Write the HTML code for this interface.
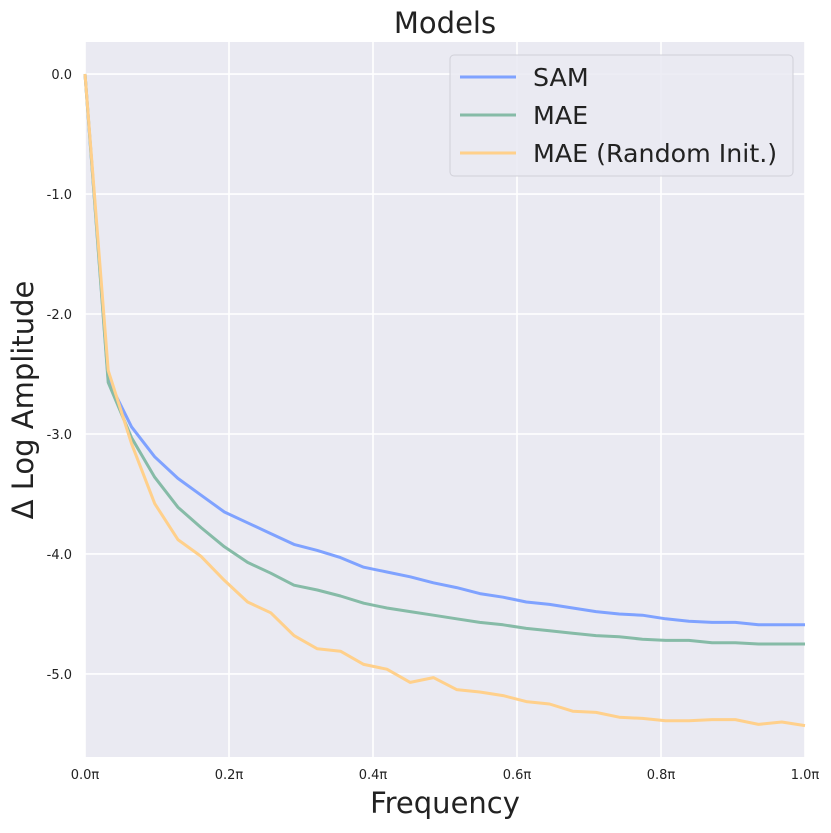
<!DOCTYPE html>
<html><head><meta charset="utf-8"><style>
body{margin:0;background:#fff;font-family:"Liberation Sans","DejaVu Sans",sans-serif}
</style></head><body>
<svg id="chart" width="831" height="828" xmlns="http://www.w3.org/2000/svg" font-family="DejaVu Sans, Liberation Sans, sans-serif"></svg>
<script>
const xTicks=[0,0.2,0.4,0.6,0.8,1.0];
const xTickLabels=["0.0π","0.2π","0.4π","0.6π","0.8π","1.0π"];
const yTicks=[0,-1,-2,-3,-4,-5];
const yTickLabels=["0.0","-1.0","-2.0","-3.0","-4.0","-5.0"];
const seriesNames=["SAM","MAE","MAE (Random Init.)"];
const samValues=[0,-2.55,-2.94,-3.19,-3.37,-3.51,-3.65,-3.74,-3.83,-3.92,-3.97,-4.03,-4.11,-4.15,-4.19,-4.24,-4.28,-4.33,-4.36,-4.40,-4.42,-4.45,-4.48,-4.50,-4.51,-4.54,-4.56,-4.57,-4.57,-4.59,-4.59,-4.59];
const maeValues=[0,-2.57,-3.03,-3.36,-3.61,-3.78,-3.94,-4.07,-4.16,-4.26,-4.30,-4.35,-4.41,-4.45,-4.48,-4.51,-4.54,-4.57,-4.59,-4.62,-4.64,-4.66,-4.68,-4.69,-4.71,-4.72,-4.72,-4.74,-4.74,-4.75,-4.75,-4.75];
const randValues=[0,-2.47,-3.08,-3.58,-3.88,-4.02,-4.22,-4.40,-4.49,-4.68,-4.79,-4.81,-4.92,-4.96,-5.07,-5.03,-5.13,-5.15,-5.18,-5.23,-5.25,-5.31,-5.32,-5.36,-5.37,-5.39,-5.39,-5.38,-5.38,-5.42,-5.40,-5.43];

const svg=document.getElementById('chart');
const NS='http://www.w3.org/2000/svg';
const L=85,R=805,T=42,B=757;
const yMax=0.267,yMin=-5.692;
const sx=v=>L+v*(R-L);
const sy=v=>T+(yMax-v)/(yMax-yMin)*(B-T);
function mk(tag,attrs,parent){const e=document.createElementNS(NS,tag);for(const k in attrs)e.setAttribute(k,attrs[k]);(parent||svg).appendChild(e);return e;}

const bg=mk('rect',{x:L,y:T,width:R-L,height:B-T,fill:'#eaeaf2'});



xTicks.forEach((t,i)=>{
  const g=mk('line',{x1:sx(t),x2:sx(t),y1:T,y2:B,stroke:'#fff','stroke-width':1.6});
  
  
  const tx=mk('text',{x:sx(t),y:B+22,'text-anchor':'middle','font-size':13,fill:'#222'});
  tx.textContent=xTickLabels[i];
  
  
});
yTicks.forEach((t,i)=>{
  const g=mk('line',{x1:L,x2:R,y1:sy(t),y2:sy(t),stroke:'#fff','stroke-width':1.6});
  
  
  const tx=mk('text',{x:L-13,y:sy(t)+5,'text-anchor':'end','font-size':13,fill:'#222'});
  tx.textContent=yTickLabels[i];
  
  
});

const colors=['#7fa2ff','#86bba7','#ffd08b'];
const all=[samValues,maeValues,randValues];
const lineNames=['sam-line','mae-line','mae-random-init-line'];
all.forEach((vals,si)=>{
  const n=vals.length;
  const d=vals.map((v,i)=>(i?'L':'M')+sx(i/(n-1)).toFixed(1)+','+sy(v).toFixed(1)).join(' ');
  const p=mk('path',{d:d,fill:'none',stroke:colors[si],'stroke-width':3,'stroke-linejoin':'round'});
  
  
});

const lg=mk('rect',{x:450,y:55,width:343,height:121,rx:4,fill:'#eaeaf2','fill-opacity':0.85,stroke:'#d0d0d8'});


seriesNames.forEach((s,i)=>{
  const y=77+i*38;
  const ln=mk('line',{x1:460,x2:516,y1:y,y2:y,stroke:colors[i],'stroke-width':3});
  
  
  const tx=mk('text',{x:533,y:y+9,'font-size':25.3,fill:'#222'});
  tx.textContent=s;
  
  
});

const title=mk('text',{x:445,y:33,'text-anchor':'middle','font-size':29,fill:'#222'});
title.textContent='Models';


const xl=mk('text',{x:445,y:813,'text-anchor':'middle','font-size':29,fill:'#222'});
xl.textContent='Frequency';


const yl=mk('text',{x:0,y:0,'text-anchor':'middle','font-size':29,fill:'#222',transform:'translate(33,400) rotate(-90)'});
yl.textContent='Δ Log Amplitude';


</script>
</body></html>
